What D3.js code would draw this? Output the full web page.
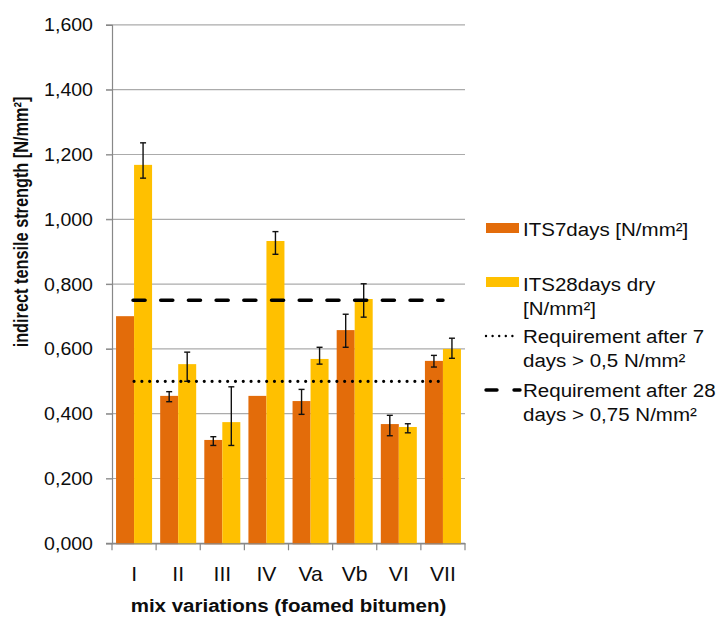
<!DOCTYPE html>
<html>
<head>
<meta charset="utf-8">
<script src="https://cdn.jsdelivr.net/npm/d3@7"></script>
<style>
  html, body { margin: 0; padding: 0; background: #fff; }
  svg { display: block; font-family: "Liberation Sans", Arial, sans-serif; }
</style>
</head>
<body>
<svg id="chart" width="723" height="619"></svg>
<script>
// Mix variations and measured indirect tensile strengths [N/mm²]
const categories = ["I", "II", "III", "IV", "Va", "Vb", "VI", "VII"];
const its7days  = [0.701, 0.455, 0.319, 0.455, 0.439, 0.658, 0.368, 0.563];
const its28days = [1.168, 0.553, 0.374, 0.933, 0.569, 0.754, 0.359, 0.600];

// Error bar ranges (lower / upper bound), null where no bar is drawn
const its7Low   = [null, 0.437, 0.302, null, 0.398, 0.605, 0.332, 0.544];
const its7High  = [null, 0.468, 0.329, null, 0.475, 0.707, 0.395, 0.580];
const its28Low  = [1.127, 0.500, 0.302, 0.892, 0.553, 0.698, 0.341, 0.571];
const its28High = [1.236, 0.590, 0.483, 0.962, 0.605, 0.801, 0.369, 0.633];

// Requirement levels
const req7 = 0.5;
const req28 = 0.75;

const yTicks = [0, 0.2, 0.4, 0.6, 0.8, 1.0, 1.2, 1.4, 1.6];

const seriesNames = ["ITS7days [N/mm²]", "ITS28days dry [N/mm²]"];
const colors = { its7: "#E36C0A", its28: "#FFC000" };
const textColor = "#0d0d0d";

const svg = d3.select("#chart");
const plot = { left: 112, right: 465, top: 24.9, bottom: 543.3 };

const x = d3.scaleBand().domain(categories).range([plot.left, plot.right]).paddingInner(0).paddingOuter(0);
const xs = d3.scaleBand().domain(["its7", "its28"]).range([0, x.bandwidth()]).paddingInner(0).paddingOuter(0.225);
const y = d3.scaleLinear().domain([0, 1.6]).range([plot.bottom, plot.top]);

// Decimal comma, three decimals: 1.6 -> "1,600"
const locale = d3.formatLocale({ decimal: ",", thousands: ".", grouping: [3], currency: ["", ""] });
const tickLabel = locale.format(".3f");

// Horizontal gridlines (extend left past the axis as tick marks)
svg.append("g").selectAll("line").data(yTicks).join("line")
  .attr("x1", plot.left - 6).attr("x2", plot.right)
  .attr("y1", d => y(d)).attr("y2", d => y(d))
  .attr("stroke", d => d === 0 ? "#888" : "#ababab")
  .attr("stroke-width", 1.2);

// Bars
const rows = categories.map((c, i) => ({
  cat: c,
  values: [
    { key: "its7", v: its7days[i], lo: its7Low[i], hi: its7High[i] },
    { key: "its28", v: its28days[i], lo: its28Low[i], hi: its28High[i] }
  ]
}));

const groups = svg.append("g").selectAll("g").data(rows).join("g")
  .attr("transform", d => `translate(${x(d.cat)},0)`);

groups.selectAll("rect").data(d => d.values).join("rect")
  .attr("x", d => xs(d.key))
  .attr("width", xs.bandwidth())
  .attr("y", d => y(d.v))
  .attr("height", d => y(0) - y(d.v) + 1)
  .attr("fill", d => colors[d.key]);

// Requirement lines, from first to last category centre
const xFirst = x(categories[0]) + x.bandwidth() / 2;
const xLast = x(categories[categories.length - 1]) + x.bandwidth() / 2;

svg.append("line")
  .attr("x1", xFirst).attr("x2", xLast)
  .attr("y1", y(req7)).attr("y2", y(req7))
  .attr("stroke", "#000").attr("stroke-width", 3.2)
  .attr("stroke-linecap", "round").attr("stroke-dasharray", "0 7.8");

svg.append("line")
  .attr("x1", xFirst - 1).attr("x2", xLast)
  .attr("y1", y(req28)).attr("y2", y(req28))
  .attr("stroke", "#000").attr("stroke-width", 3.6)
  .attr("stroke-linecap", "round").attr("stroke-dasharray", "12 15.7");

// Error bars
const eb = groups.selectAll("g.err").data(d => d.values.filter(v => v.lo !== null)).join("g")
  .attr("class", "err")
  .attr("transform", d => `translate(${xs(d.key) + xs.bandwidth() / 2},0)`);
eb.append("line").attr("x1", 0).attr("x2", 0)
  .attr("y1", d => y(d.lo)).attr("y2", d => y(d.hi))
  .attr("stroke", "#111").attr("stroke-width", 1.4);
eb.append("line").attr("x1", -3).attr("x2", 3)
  .attr("y1", d => y(d.lo)).attr("y2", d => y(d.lo))
  .attr("stroke", "#111").attr("stroke-width", 1.4);
eb.append("line").attr("x1", -3).attr("x2", 3)
  .attr("y1", d => y(d.hi)).attr("y2", d => y(d.hi))
  .attr("stroke", "#111").attr("stroke-width", 1.4);

// Y axis
const yAxis = svg.append("g")
  .attr("transform", `translate(${plot.left},0)`)
  .call(d3.axisLeft(y).tickValues(yTicks).tickFormat(tickLabel).tickSize(6).tickPadding(13));
yAxis.select(".domain").attr("stroke", "#888").attr("stroke-width", 1.2);
yAxis.selectAll(".tick line").attr("stroke", "#888");
yAxis.selectAll(".tick text")
  .attr("font-size", 19)
  .attr("fill", textColor)
  .attr("font-family", "Liberation Sans, Arial, sans-serif")
  .each(function () {
    const t = d3.select(this);
    const tx = +t.attr("x");
    t.attr("x", 0).attr("transform", `translate(${tx},0) scale(1.03,1)`);
  });

// X axis: labels at band centres, ticks at band boundaries
const xAxis = svg.append("g")
  .attr("transform", `translate(0,${plot.bottom})`)
  .call(d3.axisBottom(x).tickSize(0).tickPadding(24));
xAxis.select(".domain").attr("stroke", "#888").attr("stroke-width", 1.2);
xAxis.selectAll(".tick text")
  .attr("font-size", 19.6)
  .attr("fill", textColor)
  .attr("font-family", "Liberation Sans, Arial, sans-serif")
  .each(function () {
    const t = d3.select(this);
    const ty = +t.attr("y");
    t.attr("y", 0).attr("transform", `translate(0,${ty}) scale(1.08,1)`);
  });
const bounds = categories.map(c => x(c)).concat([plot.right]);
xAxis.append("g").selectAll("line").data(bounds).join("line")
  .attr("x1", d => d).attr("x2", d => d)
  .attr("y1", 0).attr("y2", 7)
  .attr("stroke", "#888").attr("stroke-width", 1.2);

// Axis titles
svg.append("text")
  .attr("transform", `translate(${(plot.left + plot.right) / 2},612) scale(1.08,1)`)
  .attr("text-anchor", "middle")
  .attr("font-size", 19).attr("font-weight", "bold").attr("fill", textColor)
  .text("mix variations (foamed bitumen)");

svg.append("text")
  .attr("transform", "translate(28,222) rotate(-90) scale(1,1.22)")
  .attr("text-anchor", "middle")
  .attr("font-size", 16.3).attr("font-weight", "bold").attr("fill", textColor)
  .text("indirect tensile strength [N/mm²]");

// Legend
const legend = svg.append("g");
const legX = 485, textX = 523;
const addText = (lines, baseline) => {
  lines.forEach((s, i) => {
    legend.append("text")
      .attr("transform", `translate(${textX},${baseline + i * 23.6}) scale(1.08,1)`)
      .attr("font-size", 19).attr("fill", textColor)
      .text(s);
  });
};

legend.append("rect").attr("x", legX + 1).attr("y", 223).attr("width", 33).attr("height", 10).attr("fill", colors.its7);
addText([seriesNames[0]], 236);

legend.append("rect").attr("x", legX + 1).attr("y", 277).attr("width", 33).attr("height", 10).attr("fill", colors.its28);
addText(["ITS28days dry", "[N/mm²]"], 291);

legend.append("line").attr("x1", legX + 1).attr("x2", legX + 34).attr("y1", 336).attr("y2", 336)
  .attr("stroke", "#000").attr("stroke-width", 2.4).attr("stroke-linecap", "round").attr("stroke-dasharray", "0 6.6");
addText(["Requirement after 7", "days > 0,5 N/mm²"], 343);

legend.append("line").attr("x1", legX + 1).attr("x2", legX + 35).attr("y1", 390).attr("y2", 390)
  .attr("stroke", "#000").attr("stroke-width", 3.4).attr("stroke-linecap", "round").attr("stroke-dasharray", "11 17");
addText(["Requirement after 28", "days > 0,75 N/mm²"], 397);
</script>
</body>
</html>
